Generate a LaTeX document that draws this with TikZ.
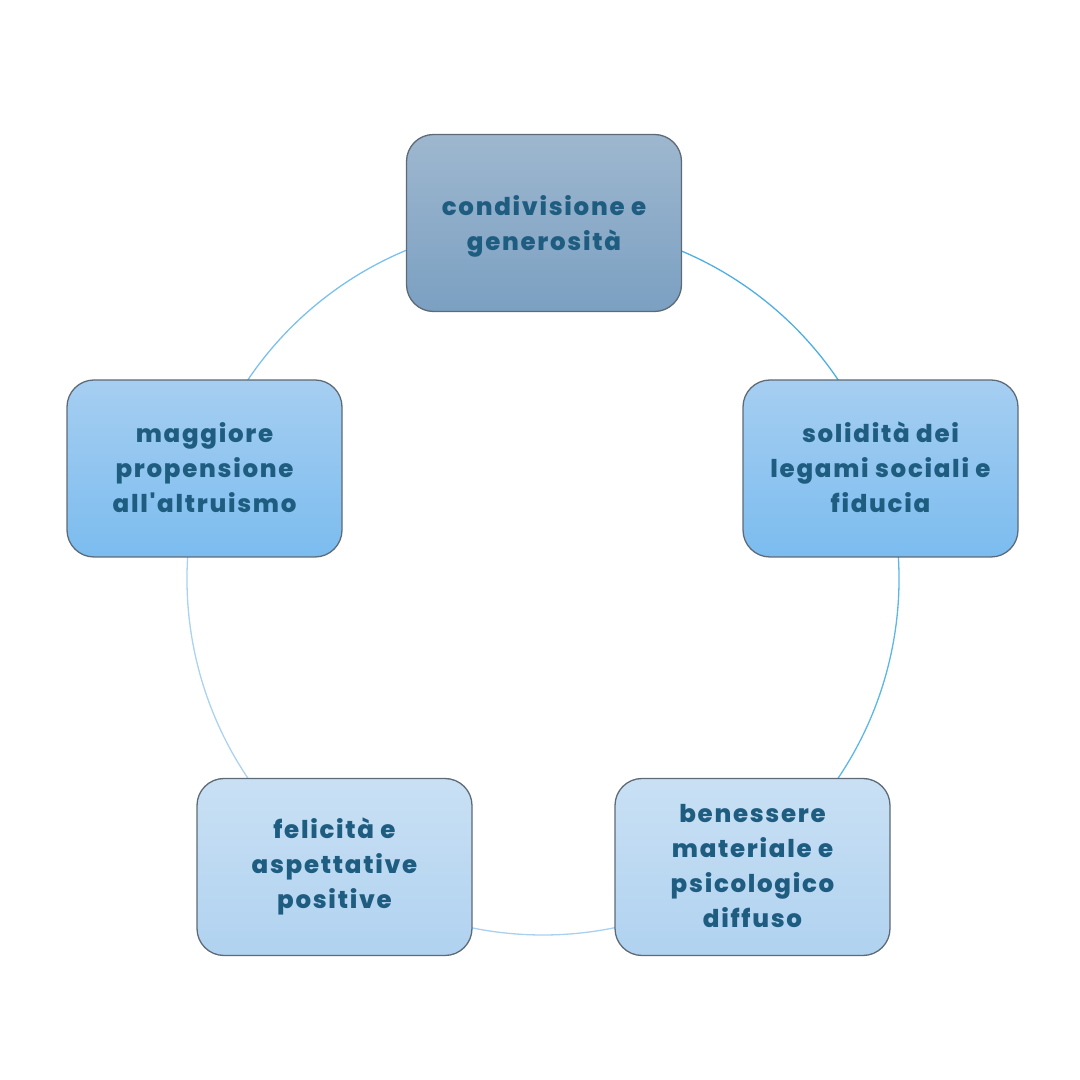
\documentclass[tikz,border=0pt]{standalone}
\usepackage{fontspec}
\newfontfamily\popp{Poppins}[LetterSpace=7, BoldFont={Poppins ExtraBold}]
\definecolor{txt}{HTML}{1F5D80}
\definecolor{edge}{HTML}{5E6A76}
\definecolor{topA}{HTML}{9EB7CF}
\definecolor{topB}{HTML}{7BA0C2}
\definecolor{midA}{HTML}{A6CEF1}
\definecolor{midB}{HTML}{7BBCEF}
\definecolor{lowA}{HTML}{C9E0F4}
\definecolor{lowB}{HTML}{B0D2F0}
\definecolor{arcA}{HTML}{4FAEE2}
\definecolor{arcB}{HTML}{5DB6E8}
\definecolor{arcC}{HTML}{A9D0EE}
\definecolor{arcD}{HTML}{ABD3F0}
\definecolor{arcE}{HTML}{7CC0EC}
\begin{document}
\begin{tikzpicture}[x=1pt,y=1pt,
  box/.style={draw=edge, line width=1.3pt, rounded corners=27pt,
    minimum width=275pt, minimum height=177pt, inner sep=0pt},
  boxtop/.style={box, top color=topA, bottom color=topB},
  boxmid/.style={box, top color=midA, bottom color=midB},
  boxlow/.style={box, top color=lowA, bottom color=lowB},
  link/.style={line width=1.3pt},
  lbl/.style={align=center, text=txt, font=\popp\bfseries\fontsize{24.5}{35}\selectfont, inner sep=0pt}
]
\useasboundingbox (0,0) rectangle (1080,1080);
\coordinate (c) at (543,501);
\path (c) ++(90:356) coordinate (p1)
      (c) ++(18:356) coordinate (p2)
      (c) ++(-54:356) coordinate (p3)
      (c) ++(-126:356) coordinate (p4)
      (c) ++(162:356) coordinate (p5);
\draw[link, arcA] (p1) arc[start angle=90, end angle=18, radius=356];
\draw[link, arcB] (p2) arc[start angle=18, end angle=-54, radius=356];
\draw[link, arcC] (p3) arc[start angle=-54, end angle=-126, radius=356];
\draw[link, arcD] (p4) arc[start angle=-126, end angle=-198, radius=356];
\draw[link, arcE] (p5) arc[start angle=162, end angle=90, radius=356];
\node[boxtop] (n1) at (544,857) {};
\node[boxmid] (n2) at (880.5,611.5) {};
\node[boxlow] (n3) at (752.5,213) {};
\node[boxlow] (n4) at (334.5,213) {};
\node[boxmid] (n5) at (204.5,611.5) {};
\node[lbl] (t1) at ([yshift=-3pt]n1.center) {condivisione e\\generosità};
\node[lbl] (t2) at ([yshift=1pt]n2.center) {solidità dei\\legami sociali e\\fiducia};
\node[lbl] (t3) at ([yshift=1pt]n3.center) {benessere\\materiale e\\psicologico\\diffuso};
\node[lbl] (t4) at ([yshift=1pt]n4.center) {felicità e\\aspettative\\positive};
\node[lbl] (t5) at ([yshift=1pt]n5.center) {maggiore\\propensione\\all'altruismo};
\end{tikzpicture}
\end{document}
